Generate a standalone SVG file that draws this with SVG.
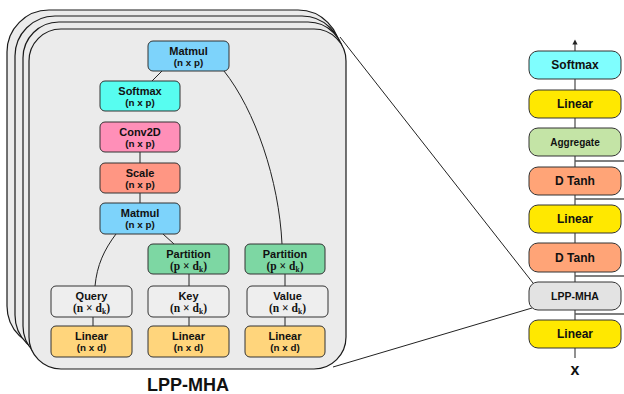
<svg xmlns="http://www.w3.org/2000/svg" width="624" height="394" viewBox="0 0 624 394">
<style>
.panel{fill:#ebebeb;stroke:#1a1a1a;stroke-width:1.2}
.n{stroke:#333;stroke-width:1}
.t{font-family:"Liberation Sans",Arial,sans-serif;font-weight:bold;font-size:11px;fill:#111;text-anchor:middle}
.s{font-family:"Liberation Sans",Arial,sans-serif;font-weight:bold;font-size:9.8px;fill:#111;text-anchor:middle}
.m{font-family:"Liberation Serif","Times New Roman",serif;font-weight:bold;font-size:11.5px;fill:#111;text-anchor:middle}
.r{font-family:"Liberation Sans",Arial,sans-serif;font-weight:bold;font-size:12px;fill:#111;text-anchor:middle}
.c{fill:none;stroke:#222;stroke-width:1}
.v{fill:none;stroke:#555;stroke-width:1.3}
</style>
<defs>
<marker id="ah" viewBox="0 0 6 6" refX="3" refY="3" markerWidth="4" markerHeight="4" orient="auto">
<path d="M0,0 L6,3 L0,6 z" fill="#222"/>
</marker>
</defs>

<g id="panel-stack">
<rect class="panel" x="7" y="10" width="333" height="338" rx="42"/>
<rect class="panel" x="15" y="16" width="327" height="339" rx="40"/>
<rect class="panel" x="23" y="22" width="321" height="340" rx="36"/>
<rect class="panel" x="29" y="29" width="317" height="340" rx="32"/>
</g>

<g id="connectors">
<line class="c" x1="162" y1="71" x2="152" y2="81"/>
<path class="c" d="M224,71 C255,110 279,180 282,244"/>
<line class="c" x1="140" y1="152" x2="140" y2="163"/>
<line class="c" x1="140" y1="193" x2="140" y2="203"/>
<path class="c" d="M116,234 C104,250 97,265 95,286"/>
<line class="c" x1="163" y1="234" x2="174" y2="244"/>
<line class="c" x1="189" y1="274" x2="189" y2="286"/>
<line class="c" x1="285" y1="274" x2="285" y2="286"/>
<line class="c" x1="93" y1="317" x2="93" y2="326"/>
<line class="c" x1="189" y1="317" x2="189" y2="326"/>
<line class="c" x1="285" y1="317" x2="285" y2="326"/>
<line class="c" x1="340" y1="37" x2="533" y2="283"/>
<line class="c" x1="333" y1="367" x2="532" y2="308"/>
<line class="v" x1="575" y1="358" x2="575" y2="42" marker-end="url(#ah)"/>
<line class="v" x1="575" y1="161" x2="624" y2="161"/>
<line class="v" x1="575" y1="199" x2="624" y2="199"/>
<line class="v" x1="575" y1="276" x2="624" y2="276"/>
<line class="v" x1="575" y1="314" x2="624" y2="314"/>
</g>

<g id="matmul-top">
<rect class="n" x="148" y="41" width="81" height="30" rx="5" fill="#7dd3fb"/>
<text class="t" x="188.5" y="55.3">Matmul</text>
<text class="s" x="188.5" y="65.5">(n x p)</text>
</g>
<g id="softmax-inner">
<rect class="n" x="100" y="81" width="80" height="30" rx="5" fill="#57fdf0"/>
<text class="t" x="140" y="95.3">Softmax</text>
<text class="s" x="140" y="105.5">(n x p)</text>
</g>
<g id="conv2d">
<rect class="n" x="100" y="122" width="80" height="30" rx="5" fill="#ff8fb8"/>
<text class="t" x="140" y="136.3">Conv2D</text>
<text class="s" x="140" y="146.5">(n x p)</text>
</g>
<g id="scale">
<rect class="n" x="100" y="163" width="80" height="30" rx="5" fill="#ff9683"/>
<text class="t" x="140" y="177.3">Scale</text>
<text class="s" x="140" y="187.5">(n x p)</text>
</g>
<g id="matmul-mid">
<rect class="n" x="100" y="203" width="80" height="31" rx="5" fill="#7dd3fb"/>
<text class="t" x="140" y="217.3">Matmul</text>
<text class="s" x="140" y="227.5">(n x p)</text>
</g>
<g id="partition-key">
<rect class="n" x="148" y="244" width="81" height="30" rx="5" fill="#7dd7a3"/>
<text class="t" x="188.5" y="257.5">Partition</text>
<text class="m" x="188.5" y="270">(p × d<tspan style="font-size:7.5px" dy="2">k</tspan><tspan dy="-2">)</tspan></text>
</g>
<g id="partition-value">
<rect class="n" x="245" y="244" width="80" height="30" rx="5" fill="#7dd7a3"/>
<text class="t" x="285" y="257.5">Partition</text>
<text class="m" x="285" y="270">(p × d<tspan style="font-size:7.5px" dy="2">k</tspan><tspan dy="-2">)</tspan></text>
</g>
<g id="query">
<rect class="n" x="51" y="286" width="81" height="31" rx="5" fill="#eeeeee"/>
<text class="t" x="91.5" y="299.5">Query</text>
<text class="m" x="91.5" y="312">(n × d<tspan style="font-size:7.5px" dy="2">k</tspan><tspan dy="-2">)</tspan></text>
</g>
<g id="key">
<rect class="n" x="148" y="286" width="81" height="31" rx="5" fill="#eeeeee"/>
<text class="t" x="188.5" y="299.5">Key</text>
<text class="m" x="188.5" y="312">(n × d<tspan style="font-size:7.5px" dy="2">k</tspan><tspan dy="-2">)</tspan></text>
</g>
<g id="value">
<rect class="n" x="247" y="286" width="81" height="31" rx="5" fill="#eeeeee"/>
<text class="t" x="287.5" y="299.5">Value</text>
<text class="m" x="287.5" y="312">(n × d<tspan style="font-size:7.5px" dy="2">k</tspan><tspan dy="-2">)</tspan></text>
</g>
<g id="linear-q">
<rect class="n" x="51" y="326" width="81" height="31" rx="5" fill="#ffd57c"/>
<text class="t" x="91.5" y="340.3">Linear</text>
<text class="s" x="91.5" y="350.5">(n x d)</text>
</g>
<g id="linear-k">
<rect class="n" x="148" y="326" width="81" height="31" rx="5" fill="#ffd57c"/>
<text class="t" x="188.5" y="340.3">Linear</text>
<text class="s" x="188.5" y="350.5">(n x d)</text>
</g>
<g id="linear-v">
<rect class="n" x="245" y="326" width="80" height="31" rx="5" fill="#ffd57c"/>
<text class="t" x="285" y="340.3">Linear</text>
<text class="s" x="285" y="350.5">(n x d)</text>
</g>

<g id="panel-label">
<text class="t" x="188" y="391" style="font-size:18px">LPP-MHA</text>
</g>

<g id="r-softmax">
<rect class="n" x="529" y="51" width="92" height="28" rx="9" fill="#7ffefe"/>
<text class="r" x="575" y="69.3">Softmax</text>
</g>
<g id="r-linear1">
<rect class="n" x="529" y="90" width="92" height="28" rx="9" fill="#ffe800"/>
<text class="r" x="575" y="108.3">Linear</text>
</g>
<g id="r-aggregate">
<rect class="n" x="529" y="128" width="92" height="28" rx="9" fill="#c4e4a6"/>
<text class="r" x="575" y="145.6" style="font-size:10px">Aggregate</text>
</g>
<g id="r-dtanh1">
<rect class="n" x="529" y="167" width="92" height="28" rx="9" fill="#ffa477"/>
<text class="r" x="575" y="185.3">D Tanh</text>
</g>
<g id="r-linear2">
<rect class="n" x="529" y="205" width="92" height="28" rx="9" fill="#ffe800"/>
<text class="r" x="575" y="223.3">Linear</text>
</g>
<g id="r-dtanh2">
<rect class="n" x="529" y="243" width="92" height="29" rx="9" fill="#ffa477"/>
<text class="r" x="575" y="261.8">D Tanh</text>
</g>
<g id="r-lppmha">
<rect class="n" x="529" y="282" width="92" height="28" rx="9" fill="#e3e3e3"/>
<text class="r" x="575" y="299.8" style="font-size:10.5px">LPP-MHA</text>
</g>
<g id="r-linear3">
<rect class="n" x="529" y="320" width="92" height="28" rx="9" fill="#ffe800"/>
<text class="r" x="575" y="338.3">Linear</text>
</g>
<g id="r-x">
<text class="r" x="575" y="375" style="font-size:16px">x</text>
</g>
</svg>
